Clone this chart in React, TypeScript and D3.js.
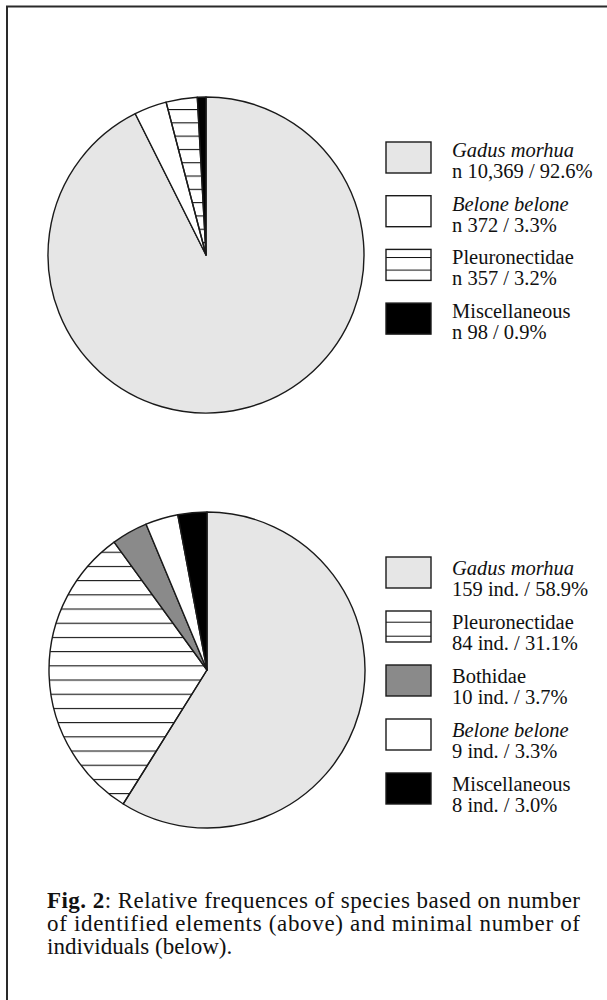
import React from "react";
import * as d3 from "d3";

// values
const topSpecies = ["Gadus morhua", "Belone belone", "Pleuronectidae", "Miscellaneous"];
const topCounts = [10369, 372, 357, 98];
const topPercents = [92.6, 3.3, 3.2, 0.9];

const bottomSpecies = ["Gadus morhua", "Pleuronectidae", "Bothidae", "Belone belone", "Miscellaneous"];
const bottomCounts = [159, 84, 10, 9, 8];
const bottomPercents = [58.9, 31.1, 3.7, 3.3, 3.0];

const italicNames = ["Gadus morhua", "Belone belone"];

const captionLines = [
  "of identified elements (above) and minimal number of",
  "individuals (below).",
];

const W = 607;
const H = 1000;
const R = 158;
const FONT = "'Liberation Serif', 'Times New Roman', serif";

const fillFor = (name: string, hatchId: string) => {
  switch (name) {
    case "Gadus morhua":
      return "#e6e6e6";
    case "Belone belone":
      return "#ffffff";
    case "Pleuronectidae":
      return `url(#${hatchId})`;
    case "Bothidae":
      return "#8a8a8a";
    default:
      return "#000000";
  }
};

type PieProps = {
  names: string[];
  counts: number[];
  cx: number;
  cy: number;
  hatchId: string;
};

const Pie = ({ names, counts, cx, cy, hatchId }: PieProps) => {
  const data = names.map((name, i) => ({ name, value: counts[i] }));
  const arcs = d3
    .pie<{ name: string; value: number }>()
    .sort(null)
    .value((d) => d.value)(data);
  const arc = d3
    .arc<d3.PieArcDatum<{ name: string; value: number }>>()
    .innerRadius(0)
    .outerRadius(R);

  return (
    <g transform={`translate(${cx},${cy})`}>
      {arcs.map((a) => (
        <path
          key={a.data.name}
          d={arc(a) || ""}
          fill={fillFor(a.data.name, hatchId)}
          stroke="#1a1a1a"
          strokeWidth={1.4}
          strokeLinejoin="round"
        />
      ))}
    </g>
  );
};

type LegendProps = {
  names: string[];
  labels: string[];
  x: number;
  y: number;
  step: number;
  off1: number;
  off2: number;
  hatchId: string;
};

const Legend = ({ names, labels, x, y, step, off1, off2, hatchId }: LegendProps) => {
  const pos = d3
    .scalePoint<string>()
    .domain(names)
    .range([y, y + step * (names.length - 1)]);
  return (
    <g>
      {names.map((name, i) => {
        const top = pos(name) as number;
        return (
          <g key={name}>
            <rect
              x={x}
              y={top}
              width={45}
              height={31}
              fill={fillFor(name, hatchId)}
              stroke="#1a1a1a"
              strokeWidth={1.4}
            />
            <text
              x={x + 66}
              y={top + off1}
              fontSize={20.5}
              fontStyle={italicNames.includes(name) ? "italic" : "normal"}
              fill="#111"
            >
              {name}
            </text>
            <text x={x + 66} y={top + off2} fontSize={20.5} fill="#111">
              {labels[i]}
            </text>
          </g>
        );
      })}
    </g>
  );
};

export default function App() {
  const fmt = d3.format(",");
  const topLabels = topCounts.map((c, i) => `n ${fmt(c)} / ${topPercents[i].toFixed(1)}%`);
  const bottomLabels = bottomCounts.map((c, i) => `${c} ind. / ${bottomPercents[i].toFixed(1)}%`);

  return (
    <svg
      width={W}
      height={H}
      style={{ position: "absolute", left: 0, top: 0, background: "#fff", fontFamily: FONT }}
    >
      <defs>
        <pattern id="hatchTop" patternUnits="userSpaceOnUse" width={8} height={13.3} y={106.7}>
          <line x1={0} x2={8} y1={0} y2={0} stroke="#111" strokeWidth={2.2} />
        </pattern>
        <pattern id="hatchBottom" patternUnits="userSpaceOnUse" width={8} height={14.2} y={563.3}>
          <line x1={0} x2={8} y1={0} y2={0} stroke="#111" strokeWidth={2.2} />
        </pattern>
        <pattern id="hatchLegTop" patternUnits="userSpaceOnUse" width={8} height={12.6} y={257}>
          <line x1={0} x2={8} y1={0} y2={0} stroke="#111" strokeWidth={2} />
        </pattern>
        <pattern id="hatchLegBottom" patternUnits="userSpaceOnUse" width={8} height={14} y={621.7}>
          <line x1={0} x2={8} y1={0} y2={0} stroke="#111" strokeWidth={2} />
        </pattern>
      </defs>

      {/* frame */}
      <line x1={6} x2={W} y1={6.5} y2={6.5} stroke="#2a2a2a" strokeWidth={2} />
      <line x1={7} x2={7} y1={6} y2={H} stroke="#2a2a2a" strokeWidth={2} />

      <Pie names={topSpecies} counts={topCounts} cx={206} cy={255} hatchId="hatchTop" />
      <Legend
        names={topSpecies}
        labels={topLabels}
        x={386}
        y={142}
        step={53.7}
        off1={15}
        off2={36}
        hatchId="hatchLegTop"
      />

      <Pie names={bottomSpecies} counts={bottomCounts} cx={207} cy={670} hatchId="hatchBottom" />
      <Legend
        names={bottomSpecies}
        labels={bottomLabels}
        x={386}
        y={557}
        step={54}
        off1={17.5}
        off2={38.5}
        hatchId="hatchLegBottom"
      />

      {/* caption */}
      <g fontSize={23} fill="#111">
        <text x={47} y={908} textLength={533} lengthAdjust="spacing">
          <tspan fontWeight="bold">Fig. 2</tspan>
          <tspan>: Relative frequences of species based on number</tspan>
        </text>
        <text x={47} y={931} textLength={533} lengthAdjust="spacing">
          {captionLines[0]}
        </text>
        <text x={47} y={954}>
          {captionLines[1]}
        </text>
      </g>
    </svg>
  );
}
